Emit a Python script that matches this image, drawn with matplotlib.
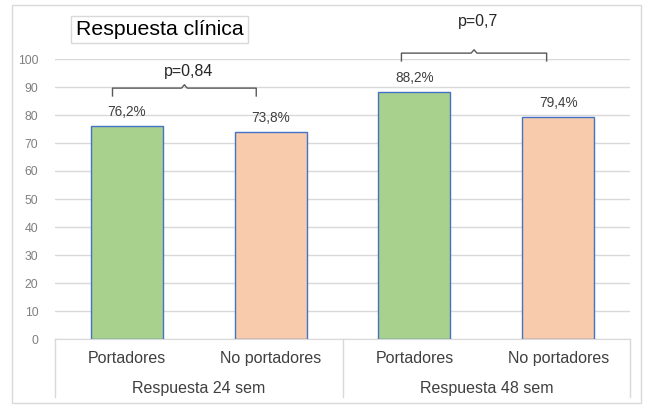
import matplotlib.pyplot as plt
from matplotlib.lines import Line2D
from matplotlib.patches import Rectangle
import numpy as np

plt.rcParams['font.family'] = ['Liberation Sans', 'DejaVu Sans']

grupos = ['Respuesta 24 sem', 'Respuesta 48 sem']
categorias = ['Portadores', 'No portadores', 'Portadores', 'No portadores']
valores = [76.2, 73.8, 88.2, 79.4]
p_valores = ['p=0,84', 'p=0,7']
titulo = 'Respuesta clínica'

verde = '#A9D18E'
salmon = '#F8CBAD'
borde = '#4472C4'
gris = '#D9D9D9'
texto = '#404040'

fig = plt.figure(figsize=(6.48, 4.05), dpi=100)
ax = fig.add_axes([55/648, 1-339/405, 575/648, 280/405])

x = np.arange(len(valores))
ax.bar(x, valores, width=0.5, color=[verde, salmon, verde, salmon],
       edgecolor=borde, linewidth=1, zorder=3)

for xi, v in zip(x, valores):
    ax.annotate(f'{v:.1f}%'.replace('.', ','), (xi, v), xytext=(0, 10),
                textcoords='offset points', ha='center', va='center',
                fontsize=9.8, color=texto)

ax.set_xlim(-0.5, 3.5)
ax.set_ylim(0, 100)
ax.set_yticks(range(0, 101, 10))
ax.grid(axis='y', color=gris, linewidth=1, zorder=0)
ax.tick_params(axis='y', length=0, pad=12, labelsize=8.8, labelcolor='#7F7F7F')
ax.tick_params(axis='x', length=0, labelbottom=False)
for s in ['top', 'right', 'left']:
    ax.spines[s].set_visible(False)
ax.spines['bottom'].set_color(gris)

# brackets with p values
def bracket(x0, x1, y, h, label, ty):
    xm = (x0 + x1) / 2
    ax.plot([x0, x0, xm - 0.02, xm, xm + 0.02, x1, x1],
            [y - h, y, y, y + 1.2, y, y, y - h],
            color='#595959', linewidth=1, clip_on=False)
    ax.text(xm + 0.03, ty, label, ha='center', va='center', fontsize=11.5,
            color='#262626')

bracket(-0.10, 0.90, 89.6, 2.8, p_valores[0], 95.5)
bracket(1.91, 2.92, 102.1, 2.8, p_valores[1], 113.3)

# category axis (two levels)
tr = ax.get_xaxis_transform()
for xi, c in zip(x, categorias):
    ax.text(xi, -0.068, c, transform=tr, ha='center', va='center',
            fontsize=11.5, color=texto)
for i, g in enumerate(grupos):
    ax.text(2 * i + 0.5, -0.175, g, transform=tr, ha='center', va='center',
            fontsize=11.5, color=texto)
for xs in [55, 343, 630]:
    fig.add_artist(Line2D([xs/648, xs/648], [1-339/405, 1-397/405],
                          color=gris, linewidth=1))

# outer border and title box
fig.add_artist(Rectangle((12/648, 2/405), 629/648, 398/405, fill=False,
                         edgecolor=gris, linewidth=1))
fig.text(159.5/648, 1-29.5/405, titulo, ha='center', va='center',
         fontsize=15.3, color='black',
         bbox=dict(boxstyle='square,pad=0.2', fc='white', ec=gris, lw=1))

fig.savefig('out.png', dpi=100)
